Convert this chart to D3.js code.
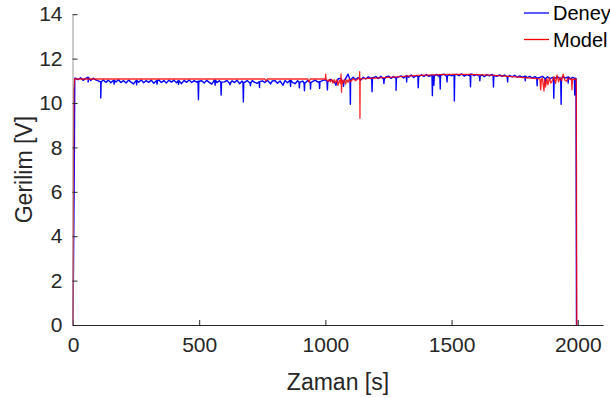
<!DOCTYPE html>
<html>
<head>
<meta charset="utf-8">
<script src="https://cdn.jsdelivr.net/npm/d3@7"></script>
<style>
  html, body { margin: 0; padding: 0; background: #fff; }
  svg { display: block; }
  text { font-family: "Liberation Sans", Arial, Helvetica, sans-serif; }
</style>
</head>
<body>
<svg id="chart" width="610" height="398"></svg>
<script>
// ---------------- DATA ----------------
const xTicks = [0, 500, 1000, 1500, 2000];
const yTicks = [0, 2, 4, 6, 8, 10, 12, 14];
const seriesNames = ["Deney", "Model"];

// Deney (experiment): edges of the run
const deneyRiseT = [0, 5, 7];
const deneyRiseV = [0, 7.0, 11.12];
const deneyFallT = [1993, 1995];
const deneyFallV = [11.10, 0];
// Deney baseline sampled every 10 s from t = 10 to t = 1990
const deneyStep = 10;
const deneyBase = [
  11.12, 11.05, 11.14, 11.02, 11.11, 11.15, 11.01, 11.12, 11.04,
  11.00, 10.95, 11.04, 10.93, 11.03, 10.91, 11.02, 10.95, 11.05, 10.92,
  11.01, 10.90, 11.03, 10.94, 10.86, 11.02, 10.93, 11.04, 10.91, 11.01,
  10.93, 11.03, 10.89, 11.00, 11.04, 10.92, 11.01, 10.90, 11.03, 10.94,
  11.03, 10.91, 11.00, 10.87, 11.02, 10.93, 11.04, 10.92, 11.01, 10.94,
  10.98, 11.00, 10.90, 11.02, 10.93, 10.85, 11.03, 10.92, 11.00, 10.94,
  10.95, 11.02, 10.89, 11.00, 10.92, 11.03, 10.87, 10.99, 10.93, 11.01,
  10.91, 11.01, 10.93, 10.89, 10.96, 11.00, 10.92, 11.02, 10.90, 10.99,
  11.01, 10.89, 10.99, 10.84, 11.01, 10.91, 11.02, 10.93, 10.87, 11.00,
  10.94, 10.99, 10.90, 11.01, 10.92, 10.97, 11.03, 10.94, 10.96, 11.02,
  11.04, 10.97, 11.06, 10.98, 10.88, 11.08, 11.12, 10.95, 11.10, 11.30,
  11.05, 11.16, 11.06, 11.14, 11.03, 11.16, 11.08, 11.18, 11.10, 11.14,
  11.19, 11.10, 11.20, 11.08, 11.17, 11.21, 11.11, 11.19, 11.13, 11.18,
  11.22, 11.13, 11.23, 11.16, 11.26, 11.15, 11.24, 11.18, 11.27, 11.20,
  11.28, 11.20, 11.25, 11.22, 11.29, 11.19, 11.26, 11.30, 11.21, 11.28,
  11.22, 11.27, 11.29, 11.23, 11.31, 11.21, 11.28, 11.24, 11.30, 11.23,
  11.29, 11.21, 11.27, 11.19, 11.28, 11.22, 11.29, 11.24, 11.20, 11.27,
  11.20, 11.26, 11.17, 11.24, 11.18, 11.25, 11.16, 11.22, 11.15, 11.21,
  11.14, 11.20, 11.12, 11.19, 11.13, 11.15, 11.20, 11.10, 11.18, 11.09,
  11.16, 11.12, 11.18, 11.10, 11.19, 11.12, 11.17, 11.09, 11.15, 11.12
];
// Deney downward spikes (time, minimum voltage)
const deneySpikeT = [60, 110, 163, 252, 333, 418, 497, 563, 587, 622,
  675, 703, 739, 783, 832, 862, 897, 917, 941, 977,
  1008, 1042, 1072, 1099, 1185, 1232, 1280, 1322, 1368, 1424,
  1430, 1455, 1482, 1511, 1575, 1612, 1666, 1722, 1792, 1839,
  1872, 1905, 1934, 1962, 1988];
const deneySpikeV = [10.95, 10.23, 10.85, 10.82, 10.85, 10.84, 10.15, 10.80, 10.36, 10.82,
  10.05, 10.78, 10.70, 10.85, 10.80, 10.75, 10.68, 10.55, 10.63, 10.66,
  10.59, 10.80, 10.75, 9.94, 10.51, 10.88, 10.57, 10.95, 10.69, 10.33,
  10.80, 10.63, 10.95, 10.09, 10.73, 11.00, 10.72, 10.95, 11.00, 10.78,
  10.85, 10.21, 9.94, 10.90, 10.36];

// Model
const modelT = [
  0, 3, 4, 6, 100, 300, 500, 700, 760, 765, 770, 900, 930, 935, 940, 980,
  1000, 1001, 1003, 1010, 1015, 1020, 1025, 1030, 1035, 1040, 1045, 1050, 1055, 1060,
  1062, 1064, 1066, 1070, 1075, 1080, 1085, 1090, 1095, 1100, 1105, 1110, 1120, 1130,
  1135, 1136, 1137, 1138, 1140, 1150, 1200, 1250, 1300, 1350, 1400, 1450, 1500, 1550,
  1600, 1650, 1700, 1750, 1800, 1840, 1850, 1853, 1856, 1860, 1866, 1869, 1872, 1878,
  1882, 1888, 1893, 1900, 1906, 1912, 1918, 1924, 1930, 1936, 1942, 1948, 1955, 1962,
  1970, 1975, 1977, 1979, 1985, 1994, 1996
];
const modelV = [
  0, 10.65, 10.70, 11.08, 11.08, 11.08, 11.08, 11.08, 11.08, 11.00, 11.08, 11.08, 11.08, 10.95, 11.08, 11.08,
  11.08, 11.30, 11.07, 10.98, 11.06, 10.95, 11.07, 10.90, 11.05, 10.92, 11.04, 10.80, 11.02, 10.88,
  11.31, 10.48, 11.03, 10.90, 11.06, 10.85, 11.04, 10.93, 11.08, 10.97, 11.02, 11.09, 11.00, 11.10,
  11.12, 11.41, 9.31, 11.10, 11.09, 11.10, 11.12, 11.15, 11.19, 11.23, 11.26, 11.28, 11.29, 11.29,
  11.28, 11.26, 11.22, 11.18, 11.13, 11.10, 11.09, 10.59, 11.06, 11.12, 10.54, 11.05, 10.72, 11.10,
  10.82, 11.14, 10.90, 11.02, 11.18, 10.88, 11.26, 10.95, 11.15, 11.00, 11.30, 11.05, 10.98, 11.12,
  11.07, 11.08, 10.60, 11.07, 11.07, 11.07, 0
];

// ---------------- CHART ----------------
const svg = d3.select("#chart");
const W = 610, H = 398;
const m = { left: 73, right: 7, top: 14.2, bottom: 73 };

const x = d3.scaleLinear().domain([0, 2100]).range([m.left, W - m.right]);
const y = d3.scaleLinear().domain([0, 14]).range([H - m.bottom, m.top]);

// build point sets
const basePts = deneyBase.map((v, i) => [10 + i * deneyStep, v]);
const nearestBase = t => basePts[Math.max(0, Math.min(basePts.length - 1, Math.round((t - 10) / deneyStep)))][1];
let deneyPts = basePts.slice();
deneySpikeT.forEach((t, i) => {
  const b = nearestBase(t);
  deneyPts.push([t - 1.5, b], [t, deneySpikeV[i]], [t + 1.5, b]);
});
deneyPts.sort((a, b) => a[0] - b[0]);
deneyPts = deneyRiseT.map((t, i) => [t, deneyRiseV[i]])
  .concat(deneyPts)
  .concat(deneyFallT.map((t, i) => [t, deneyFallV[i]]));
const modelPts = modelT.map((t, i) => [t, modelV[i]]);

const line = d3.line().x(d => x(d[0])).y(d => y(d[1]));

const plot = svg.append("g");
plot.append("path").datum(deneyPts)
  .attr("d", line).attr("fill", "none")
  .attr("stroke", "#0000ff").attr("stroke-width", 1.4)
  .attr("stroke-linejoin", "round");
plot.append("path").datum(modelPts)
  .attr("d", line).attr("fill", "none")
  .attr("stroke", "#ff0000").attr("stroke-width", 1.3)
  .attr("stroke-opacity", 0.85)
  .attr("stroke-linejoin", "round");

// axes
const axisColor = "#262626";
const gx = svg.append("g").attr("transform", `translate(0,${H - m.bottom})`)
  .call(d3.axisBottom(x).tickValues(xTicks).tickFormat(d3.format("d"))
    .tickSizeInner(-5).tickSizeOuter(0).tickPadding(12));
const gy = svg.append("g").attr("transform", `translate(${m.left - 0.5},0)`)
  .call(d3.axisLeft(y).tickValues(yTicks).tickFormat(d3.format("d"))
    .tickSizeInner(-5).tickSizeOuter(0).tickPadding(10));

[gx, gy].forEach(g => {
  g.selectAll("path.domain").attr("stroke", axisColor);
  g.selectAll(".tick line").attr("stroke", axisColor);
  g.selectAll(".tick text").attr("fill", axisColor)
    .style("font-size", "21px")
    .style("font-family", '"Liberation Sans", Arial, sans-serif');
});
gy.select("path.domain").attr("stroke", "#9a9a9a");

// axis labels
svg.append("text")
  .attr("x", (x.range()[0] + x.range()[1]) / 2)
  .attr("y", 390)
  .attr("text-anchor", "middle")
  .attr("fill", axisColor)
  .style("font-size", "23px")
  .text("Zaman [s]");
svg.append("text")
  .attr("transform", `translate(32,${(y.range()[0] + y.range()[1]) / 2}) rotate(-90)`)
  .attr("text-anchor", "middle")
  .attr("fill", axisColor)
  .style("font-size", "23px")
  .text("Gerilim [V]");

// legend
const legendColors = ["#0000ff", "#ff0000"];
const lg = svg.append("g");
seriesNames.forEach((name, i) => {
  const ly = 13 + i * 26.5;
  lg.append("line").attr("x1", 524).attr("x2", 549).attr("y1", ly).attr("y2", ly)
    .attr("stroke", legendColors[i]).attr("stroke-width", 1.3);
  lg.append("text").attr("x", 553).attr("y", ly).attr("dy", "0.35em")
    .attr("fill", "#000").style("font-size", "20px").text(name);
});
</script>
</body>
</html>
